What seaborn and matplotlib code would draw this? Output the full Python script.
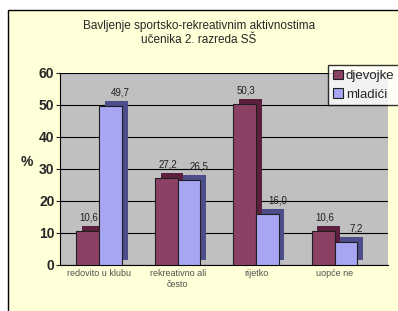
import numpy as np
import pandas as pd
import matplotlib
matplotlib.use("Agg")
import matplotlib.pyplot as plt
import matplotlib.patheffects as pe
from matplotlib.patches import Rectangle
import seaborn as sns

TITLE = "Bavljenje sportsko-rekreativnim aktivnostima\nučenika 2. razreda SŠ"
CATEGORIES = ["redovito u klubu", "rekreativno ali\nčesto", "rijetko", "uopće ne"]
DJEVOJKE = [10.6, 27.2, 50.3, 10.6]
MLADICI = [49.7, 26.5, 16.0, 7.2]
SERIES = ["djevojke", "mladići"]

df = pd.DataFrame({
    "kategorija": CATEGORIES * 2,
    "spol": [SERIES[0]] * 4 + [SERIES[1]] * 4,
    "posto": DJEVOJKE + MLADICI,
})

sns.set_style("white")
plt.rcParams["font.family"] = ["Liberation Sans", "DejaVu Sans"]

fig = plt.figure(figsize=(3.98, 3.11), dpi=100)
fig.patch.set_facecolor("white")
# yellow chart frame
fig.patches.append(Rectangle((8 / 398, -0.01), 1.0, (301 / 311) + 0.01,
                             transform=fig.transFigure, facecolor="#FFFFD8",
                             edgecolor="black", linewidth=1.0, zorder=-5))

ax = fig.add_axes([60 / 398, 46 / 311, 328 / 398, 192 / 311])
ax.set_zorder(2)
ax.set_facecolor("#C0C0C0")

colors = {"djevojke": "#993366", "mladići": "#9999FF"}
shadows = {"djevojke": "#5C1F3D", "mladići": "#4D4D8A"}
sns.barplot(data=df, x="kategorija", y="posto", hue="spol", palette=colors,
            width=0.58, edgecolor="#202020", linewidth=0.8, ax=ax, legend=True)

label_dx = {"djevojke": 1, "mladići": 7}
for cont, name in zip(ax.containers, SERIES):
    for bar in cont:
        # fake 3D depth
        bar.set_path_effects([
            pe.SimplePatchShadow(offset=(4, 3.5), shadow_rgbFace=shadows[name], alpha=1.0),
            pe.Normal(),
        ])
        bar.set_zorder(3)
    texts = ax.bar_label(cont, labels=[f"{v:.1f}".replace(".", ",") for v in cont.datavalues],
                         padding=6, fontsize=7, color="#202020", zorder=5)
    for t in texts:
        t.xyann = (label_dx[name], 6)

ax.set_ylim(0, 60)
ax.set_xlim(-0.5, 3.68)
ax.set_yticks(range(0, 61, 10))
ax.yaxis.grid(True, color="black", linewidth=0.8)
ax.set_axisbelow(True)
ax.tick_params(axis="y", labelsize=10, length=3, left=True, pad=1)
ax.tick_params(axis="x", labelsize=6.5, length=0, pad=3, labelcolor="#505050")
for lbl in ax.get_yticklabels():
    lbl.set_fontweight("bold")
ax.set_xlabel("")
ax.set_ylabel("%", rotation=0, fontsize=10, fontweight="bold", labelpad=6)
ax.yaxis.set_label_coords(-0.10, 0.5)
for s in ["top", "right"]:
    ax.spines[s].set_visible(False)
ax.spines["left"].set_color("black")
ax.spines["bottom"].set_color("black")

ax.legend(loc="upper left", bbox_to_anchor=(328 / 398, 1 - 65 / 311),
          bbox_transform=fig.transFigure, frameon=True, fancybox=False,
          edgecolor="black", fontsize=9.5, handlelength=0.8, handletextpad=0.2,
          borderpad=0.35, labelspacing=0.5, borderaxespad=0)

fig.text(0.5, 1 - 33 / 311, TITLE, ha="center", va="center", fontsize=8.5,
         linespacing=1.3)

fig.savefig("out.png", dpi=100)
